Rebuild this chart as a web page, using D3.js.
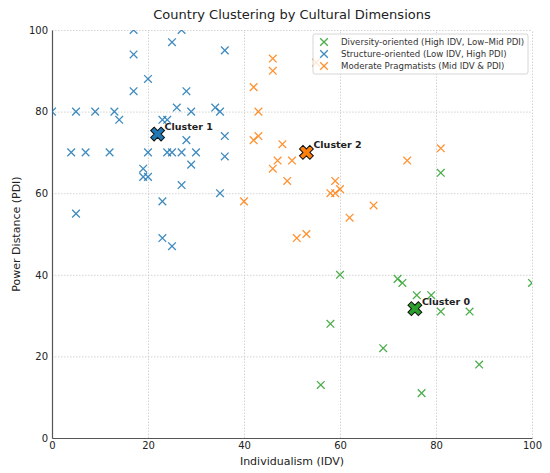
<!DOCTYPE html>
<html>
<head>
<meta charset="utf-8">
<script src="https://cdn.jsdelivr.net/npm/d3@7"></script>
<style>
  body { margin: 0; background: #fff; }
  svg text { font-family: "DejaVu Sans", sans-serif; }
</style>
</head>
<body>
<div id="chart"></div>
<script>
// cluster names and colours (legend order)
const clusterNames = [
  "Diversity-oriented (High IDV, Low\u2013Mid PDI)",
  "Structure-oriented (Low IDV, High PDI)",
  "Moderate Pragmatists (Mid IDV & PDI)"
];
const clusterColors = ["#2ca02c", "#1f77b4", "#ff7f0e"];

// [IDV, PDI] per country, one list per cluster
const cluster0 = [[81,65],[60,40],[72,39],[73,38],[100,38],[76,35],[79,35],[81,31],[87,31],
  [58,28],[69,22],[89,18],[56,13],[77,11]];
const cluster1 = [[17,100],[27,100],[25,97],[17,94],[20,88],[17,85],[28,85],[26,81],[0,80],
  [5,80],[9,80],[13,80],[29,80],[14,78],[23,78],[24,78],[28,73],[4,70],[7,70],[12,70],
  [20,70],[24,70],[25,70],[27,70],[30,70],[29,67],[19,66],[19,64],[20,64],[27,62],[23,58],
  [5,55],[23,49],[25,47],[36,95],[34,81],[35,80],[36,74],[36,69],[35,60]];
const cluster2 = [[46,93],[46,90],[55,92],[42,86],[43,80],[42,73],[43,74],[48,72],[47,68],
  [50,68],[46,66],[49,63],[59,63],[60,61],[58,60],[59,60],[74,68],[81,71],[40,58],[67,57],
  [62,54],[51,49],[53,50]];
const clusters = [cluster0, cluster1, cluster2];

// centroids as drawn
const centroids = [[75.6,31.7],[22,74.5],[53,70]];
const centroidLabels = ["Cluster 0", "Cluster 1", "Cluster 2"];

const xTicks = [0,20,40,60,80,100];
const yTicks = [0,20,40,60,80,100];

const W = 550, H = 473;
const margin = {left:52, right:18, top:30, bottom:35};
const iw = W - margin.left - margin.right;
const ih = H - margin.top - margin.bottom;

const svg = d3.select("#chart").append("svg")
  .attr("width", W).attr("height", H);

svg.append("text")
  .attr("x", margin.left + iw/2).attr("y", 19)
  .attr("text-anchor", "middle")
  .attr("font-size", 13).attr("fill", "#222")
  .text("Country Clustering by Cultural Dimensions");

const g = svg.append("g").attr("transform", `translate(${margin.left},${margin.top})`);

const x = d3.scaleLinear([0,100],[0,iw]);
const y = d3.scaleLinear([0,100],[ih,0]);

// grid
g.append("g").attr("class","grid")
  .attr("transform", `translate(0,${ih})`)
  .call(d3.axisBottom(x).tickValues(xTicks).tickSize(-ih).tickFormat(""))
  .call(a => a.select(".domain").remove());
g.append("g").attr("class","grid")
  .call(d3.axisLeft(y).tickValues(yTicks).tickSize(-iw).tickFormat(""))
  .call(a => a.select(".domain").remove());
g.selectAll(".grid line")
  .attr("stroke","#c8c8c8").attr("stroke-width",0.8).attr("stroke-dasharray","1.5,1.5");

// axes
const xa = g.append("g").attr("transform", `translate(0,${ih})`)
  .call(d3.axisBottom(x).tickValues(xTicks).tickSize(0).tickPadding(4));
const ya = g.append("g")
  .call(d3.axisLeft(y).tickValues(yTicks).tickSize(0).tickPadding(4));
[xa, ya].forEach(a => {
  a.select(".domain").attr("stroke","#555").attr("stroke-width",1.2);
  a.selectAll("text").attr("font-size",10).attr("fill","#222")
    .attr("font-family","DejaVu Sans, sans-serif");
});

svg.append("text")
  .attr("x", margin.left + iw/2).attr("y", 465)
  .attr("text-anchor","middle").attr("font-size",11).attr("fill","#222")
  .text("Individualism (IDV)");
svg.append("text")
  .attr("transform", `translate(20,${margin.top + ih/2}) rotate(-90)`)
  .attr("text-anchor","middle").attr("font-size",11).attr("fill","#222")
  .text("Power Distance (PDI)");

// points
const plot = g.append("g");
g.append("defs").append("clipPath").attr("id","clip")
  .append("rect").attr("width", iw).attr("height", ih);
plot.attr("clip-path","url(#clip)");

const xMark = d3.symbol(d3.symbolX, 40);
clusters.forEach((pts, k) => {
  plot.append("g").selectAll("path")
    .data(pts)
    .join("path")
    .attr("d", xMark)
    .attr("transform", d => `translate(${x(d[0])},${y(d[1])})`)
    .attr("fill","none")
    .attr("stroke", clusterColors[k])
    .attr("stroke-opacity", 0.85)
    .attr("stroke-width", 1.3);
});

// centroids
const bigX = d3.symbol(d3.symbolCross, 120);
centroids.forEach((c, k) => {
  g.append("path")
    .attr("d", bigX)
    .attr("transform", `translate(${x(c[0])},${y(c[1])}) rotate(45)`)
    .attr("fill", clusterColors[k])
    .attr("stroke","#111").attr("stroke-width",1);
  g.append("text")
    .attr("x", x(c[0]) + 7).attr("y", y(c[1]) - 4)
    .attr("font-size", 9.5).attr("font-weight","bold").attr("fill","#222")
    .text(centroidLabels[k]);
});

// legend
const lg = svg.append("g").attr("transform","translate(313,34)");
lg.append("rect")
  .attr("width",215).attr("height",40).attr("rx",2)
  .attr("fill","#fff").attr("fill-opacity",0.8)
  .attr("stroke","#ccc").attr("stroke-width",0.8);
clusterNames.forEach((name, k) => {
  const row = lg.append("g").attr("transform", `translate(0,${8 + k*12})`);
  row.append("path")
    .attr("d", xMark)
    .attr("transform","translate(11,0)")
    .attr("fill","none").attr("stroke", clusterColors[k])
    .attr("stroke-opacity",0.85).attr("stroke-width",1.3);
  row.append("text")
    .attr("x", 28).attr("y", 3)
    .attr("font-size", 8.6).attr("fill","#333")
    .text(name);
});
</script>
</body>
</html>
